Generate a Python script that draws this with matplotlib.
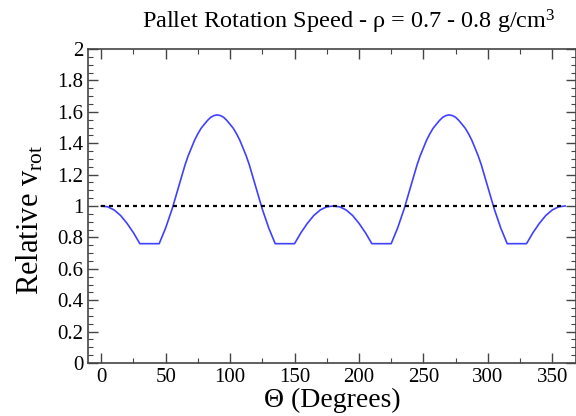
import matplotlib
matplotlib.use('Agg')
import matplotlib.pyplot as plt
from matplotlib.ticker import MultipleLocator

plt.rcParams['font.family'] = ['Liberation Serif', 'DejaVu Serif']
plt.rcParams['mathtext.fontset'] = 'custom'
plt.rcParams['mathtext.rm'] = 'Liberation Serif'
plt.rcParams['mathtext.it'] = 'Liberation Serif:italic'

# pallet angle (degrees) and relative rotation speed
theta = [0, 5, 10, 15, 20, 25, 30, 35, 40, 45, 47.5, 50, 52.5, 55, 57.5, 60,
         62.5, 65, 67.5, 70, 72.5, 75, 77.5, 80, 82.5, 85, 87.5, 90, 92.5, 95,
         97.5, 100, 102.5, 105, 107.5, 110, 112.5, 115, 117.5, 120, 122.5, 125,
         127.5, 130, 132.5, 135, 140, 145, 150, 155, 160, 165, 170, 175, 180,
         185, 190, 195, 200, 205, 210, 215, 220, 225, 227.5, 230, 232.5, 235,
         237.5, 240, 242.5, 245, 247.5, 250, 252.5, 255, 257.5, 260, 262.5, 265,
         267.5, 270, 272.5, 275, 277.5, 280, 282.5, 285, 287.5, 290, 292.5, 295,
         297.5, 300, 302.5, 305, 307.5, 310, 312.5, 315, 320, 325, 330, 335, 340,
         345, 350, 355, 360]
v_rel = [1.0, 0.995, 0.975, 0.94, 0.89, 0.83, 0.76, 0.76, 0.76, 0.76, 0.81, 0.86,
         0.92, 0.98, 1.05, 1.12, 1.19, 1.26, 1.32, 1.37, 1.42, 1.46, 1.495, 1.52,
         1.545, 1.565, 1.576, 1.58, 1.576, 1.565, 1.545, 1.52, 1.495, 1.46, 1.42,
         1.37, 1.32, 1.26, 1.19, 1.12, 1.05, 0.98, 0.92, 0.86, 0.81, 0.76, 0.76,
         0.76, 0.76, 0.83, 0.89, 0.94, 0.975, 0.995, 1.0,
         0.995, 0.975, 0.94, 0.89, 0.83, 0.76, 0.76, 0.76, 0.76, 0.81, 0.86,
         0.92, 0.98, 1.05, 1.12, 1.19, 1.26, 1.32, 1.37, 1.42, 1.46, 1.495, 1.52,
         1.545, 1.565, 1.576, 1.58, 1.576, 1.565, 1.545, 1.52, 1.495, 1.46, 1.42,
         1.37, 1.32, 1.26, 1.19, 1.12, 1.05, 0.98, 0.92, 0.86, 0.81, 0.76, 0.76,
         0.76, 0.76, 0.83, 0.89, 0.94, 0.975, 0.995, 1.0]
ref_x = [0, 360]
ref_y = [1, 1]

fig = plt.figure(figsize=(5.76, 4.16), dpi=100)
ax = fig.add_axes([88.3 / 576, 53 / 416, (575.5 - 88.3) / 576, (363 - 49) / 416])

ax.plot(theta, v_rel, color='#4040ff', lw=1.2)
ax.plot(ref_x, ref_y, color='black', lw=1.6, ls=(0, (1.8, 1.8)))

ax.set_xlim(-10, 368)
ax.set_ylim(0, 2)
ax.xaxis.set_major_locator(MultipleLocator(50))
ax.xaxis.set_minor_locator(MultipleLocator(25))
ax.yaxis.set_major_locator(MultipleLocator(0.2))
ax.yaxis.set_minor_locator(MultipleLocator(0.05))
ax.yaxis.set_major_formatter(plt.FuncFormatter(lambda v, p: f'{v:g}'))

for s in ax.spines.values():
    s.set_color('#444444')
    s.set_linewidth(1.2)
ax.tick_params(which='both', direction='in', top=True, right=True,
               colors='#444444', labelcolor='black', labelsize=15)
ax.tick_params(which='major', length=7, width=1)
ax.tick_params(which='minor', length=3.5, width=0.8)

ax.set_title(r'Pallet Rotation Speed - ρ = 0.7 - 0.8 g/cm$^3$', fontsize=17.5,
             x=0.535, pad=15)
ax.set_xlabel('Θ (Degrees)', fontsize=20, labelpad=1)
ax.set_ylabel(r'Relative v$_{\mathrm{rot}}$', fontsize=22)
ax.yaxis.set_label_coords(-0.088, 0.455)

fig.savefig('out.png', dpi=100)
